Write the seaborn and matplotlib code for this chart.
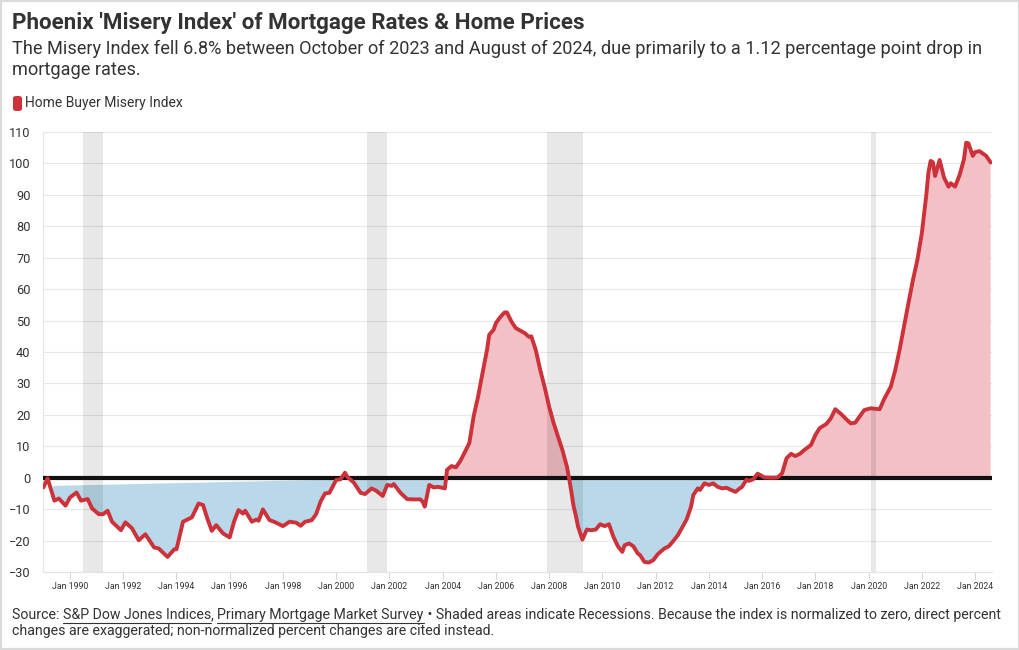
import numpy as np
import pandas as pd
import matplotlib
matplotlib.use("Agg")
import matplotlib.pyplot as plt
import matplotlib.dates as mdates
from matplotlib.patches import FancyBboxPatch, Rectangle
from matplotlib.lines import Line2D
import seaborn as sns

# ---------------- data ----------------
dates = [
    "1989-01", "1989-03", "1989-06", "1989-08", "1989-11", "1990-01", "1990-04", "1990-06",
    "1990-09", "1990-11", "1991-02", "1991-04", "1991-06", "1991-08", "1991-12", "1992-02",
    "1992-05", "1992-08", "1992-11", "1993-03", "1993-05", "1993-09", "1993-12", "1994-01",
    "1994-04", "1994-06", "1994-08", "1994-11", "1995-01", "1995-03", "1995-05", "1995-07",
    "1995-10", "1996-01", "1996-03", "1996-05", "1996-07", "1996-08", "1996-11", "1997-01",
    "1997-02", "1997-04", "1997-07", "1997-09", "1998-01", "1998-04", "1998-07", "1998-09",
    "1998-11", "1999-02", "1999-04", "1999-06", "1999-08", "1999-10", "2000-01", "2000-03",
    "2000-05", "2000-06", "2000-09", "2000-12", "2001-02", "2001-05", "2001-07", "2001-10",
    "2001-12", "2002-02", "2002-03", "2002-06", "2002-09", "2002-12", "2003-03", "2003-04",
    "2003-05", "2003-07", "2003-09", "2003-11", "2004-02", "2004-03", "2004-05", "2004-07",
    "2004-09", "2005-01", "2005-03", "2005-05", "2005-07", "2005-09", "2005-10", "2005-12",
    "2006-01", "2006-03", "2006-05", "2006-06", "2006-08", "2006-10", "2006-12", "2007-02",
    "2007-04", "2007-05", "2007-07", "2007-09", "2007-11", "2008-01", "2008-03", "2008-05",
    "2008-07", "2008-09", "2008-10", "2008-11", "2008-12", "2009-01", "2009-02", "2009-04",
    "2009-06", "2009-08", "2009-10", "2009-12", "2010-02", "2010-04", "2010-06", "2010-08",
    "2010-10", "2010-11", "2011-01", "2011-03", "2011-05", "2011-06", "2011-08", "2011-10",
    "2011-12", "2012-02", "2012-05", "2012-07", "2012-09", "2012-11", "2013-02", "2013-03",
    "2013-05", "2013-06", "2013-08", "2013-09", "2013-11", "2014-01", "2014-03", "2014-05",
    "2014-07", "2014-09", "2014-11", "2015-01", "2015-03", "2015-04", "2015-06", "2015-07",
    "2015-09", "2015-11", "2016-02", "2016-06", "2016-08", "2016-10", "2016-12", "2017-02",
    "2017-04", "2017-06", "2017-08", "2017-11", "2018-01", "2018-03", "2018-06", "2018-08",
    "2018-10", "2019-01", "2019-03", "2019-05", "2019-07", "2019-09", "2019-11", "2020-02",
    "2020-04", "2020-06", "2020-08", "2020-11", "2021-01", "2021-03", "2021-05", "2021-07",
    "2021-09", "2021-11", "2022-01", "2022-03", "2022-04", "2022-05", "2022-06", "2022-07",
    "2022-09", "2022-11", "2023-01", "2023-02", "2023-04", "2023-06", "2023-08", "2023-09",
    "2023-10", "2023-12", "2024-01", "2024-03", "2024-05", "2024-06", "2024-08",
]
values = [
    -3.1, -0.2, -7.3, -6.6, -8.9, -6.3, -4.7, -7.3,
    -6.8, -9.8, -11.6, -11.6, -10.5, -14.0, -16.7, -14.2,
    -16.1, -19.9, -18.0, -22.2, -22.5, -25.2, -22.8, -22.8,
    -14.0, -13.3, -12.6, -8.2, -8.7, -13.0, -16.9, -15.1,
    -17.7, -19.0, -14.0, -10.3, -11.4, -10.5, -14.0, -13.3,
    -13.7, -10.1, -13.5, -14.0, -15.4, -14.0, -14.3, -15.3,
    -14.0, -13.5, -11.6, -7.6, -5.0, -4.8, -0.7, -0.5,
    1.6, 0.3, -1.6, -4.8, -5.2, -3.4, -4.1, -5.8,
    -2.3, -2.6, -2.0, -4.8, -6.8, -6.9, -6.9, -7.6,
    -9.2, -2.3, -3.1, -2.9, -3.4, 2.5, 3.7, 3.3,
    5.4, 11.0, 19.5, 25.8, 33.3, 40.7, 45.5, 47.1,
    49.2, 51.1, 52.6, 52.6, 49.7, 47.6, 46.8, 46.0,
    44.8, 45.0, 40.7, 34.3, 28.8, 22.6, 17.5, 13.1,
    8.8, 3.5, -0.2, -4.5, -9.0, -12.0, -15.6, -19.7,
    -16.5, -16.7, -16.5, -14.8, -15.4, -14.8, -18.8, -21.8,
    -23.6, -21.5, -20.9, -21.8, -24.1, -24.6, -26.8, -27.0,
    -26.2, -24.3, -22.5, -21.8, -20.1, -18.3, -14.5, -13.3,
    -9.2, -5.5, -3.4, -3.9, -1.8, -2.3, -1.8, -2.9,
    -3.4, -3.2, -3.9, -4.5, -3.4, -2.9, -0.6, -1.0,
    -0.5, 1.3, 0.1, 0.0, 0.1, 1.4, 6.2, 7.6,
    6.9, 7.6, 8.8, 10.4, 13.6, 15.8, 17.1, 18.9,
    21.8, 20.0, 18.6, 17.3, 17.5, 19.5, 21.5, 22.1,
    21.9, 21.8, 25.0, 29.0, 34.3, 40.7, 48.2, 55.6,
    63.0, 69.4, 77.9, 89.6, 97.1, 100.8, 100.4, 96.0,
    101.1, 95.5, 92.6, 93.7, 92.6, 96.2, 101.3, 106.6,
    106.4, 102.4, 103.6, 103.9, 102.9, 102.4, 100.3,
]

recession_starts = ["1990-07-01", "2001-03-01", "2007-12-01", "2020-02-01"]
recession_ends = ["1991-04-01", "2001-12-01", "2009-04-10", "2020-04-10"]

# the first negative area in the source closes along a chord, not along zero
chord_dates = ["1989-05-15", "2000-01-01"]
chord_values = [-2.6, -0.6]

y_ticks = list(range(-30, 111, 10))

title = "Phoenix 'Misery Index' of Mortgage Rates & Home Prices"
subtitle = ("The Misery Index fell 6.8% between October of 2023 and August of 2024, due primarily to a 1.12 percentage point drop in\n"
            "mortgage rates.")
legend_label = "Home Buyer Misery Index"
source_parts = ["Source: ", "S&P Dow Jones Indices", ", ", "Primary Mortgage Market Survey",
                " \u2022 Shaded areas indicate Recessions. Because the index is normalized to zero, direct percent"]
source_line2 = "changes are exaggerated; non-normalized percent changes are cited instead."

# ---------------- style ----------------
sns.set_theme(style="white")
plt.rcParams['font.family'] = ['Roboto', 'DejaVu Sans']

RED = "#cd3139"
PINK = "#f2c0c5"
BLUE = "#b9d9ea"
TXT = "#333333"

W, H = 1020, 650
fig = plt.figure(figsize=(W / 100, H / 100), dpi=100)
fig.patch.set_facecolor("white")
ax = fig.add_axes([43 / W, (H - 572) / H, (992 - 43) / W, (572 - 132) / H])

df = pd.DataFrame({"date": pd.to_datetime(dates), "value": values})
xn = mdates.date2num(df["date"])
yv = df["value"].to_numpy()

# fills (dense sampling of the polyline itself)
xd = np.linspace(xn[0], xn[-1], 6000)
yd = np.interp(xd, xn, yv)
ax.fill_between(xd, yd, 0, where=yd >= 0, interpolate=True, color=PINK, lw=0, zorder=1)

cx = mdates.date2num(pd.to_datetime(chord_dates))
base = np.zeros_like(xd)
in_chord = (xd >= cx[0]) & (xd <= cx[1])
base[in_chord] = np.interp(xd[in_chord], cx, chord_values)
valid = (xd >= cx[0])
ax.fill_between(xd, yd, base, where=(yd < base) & valid, interpolate=True,
                color=BLUE, lw=0, zorder=1)

# recessions (translucent, over the fills)
for s, e in zip(recession_starts, recession_ends):
    ax.axvspan(pd.Timestamp(s), pd.Timestamp(e), color="black", alpha=0.09, lw=0, zorder=2)

ax.axhline(0, color="#111111", lw=3, zorder=3)

sns.lineplot(data=df, x="date", y="value", color=RED, lw=2.8, ax=ax, zorder=4)
for ln in ax.lines:
    ln.set_solid_joinstyle("round")
    ln.set_solid_capstyle("round")

ax.set_xlim(pd.Timestamp("1988-12-27"), pd.Timestamp("2024-08-20"))
ax.set_ylim(-30, 110)
ax.set_yticks(y_ticks)
ax.xaxis.set_major_locator(mdates.YearLocator(2, month=1))
ax.xaxis.set_major_formatter(mdates.DateFormatter("%b %Y"))
ax.set_xlabel("")
ax.set_ylabel("")

ax.yaxis.grid(True, color="#e8e8e8", lw=0.8)
ax.xaxis.grid(False)
ax.set_axisbelow(True)
for side in ["top", "right"]:
    ax.spines[side].set_visible(False)
ax.spines["left"].set_color("#e4e4e4")
ax.spines["left"].set_linewidth(0.8)
ax.spines["bottom"].set_color("#e4e4e4")
ax.spines["bottom"].set_linewidth(0.8)

ax.tick_params(axis="y", length=0, labelsize=9.2, labelcolor=TXT, pad=9)
ax.tick_params(axis="x", length=5, width=0.8, color="#d6d6d6", labelsize=6.3, labelcolor=TXT, pad=2.5)
ax.tick_params(axis="x", bottom=True)

# ---------------- texts ----------------
fig.text(12 / W, 1 - 23 / H, title, fontsize=16.1, fontweight="bold", color=TXT, va="center", ha="left")
fig.text(12 / W, 1 - 40 / H, subtitle, fontsize=13.1, color=TXT, va="top", ha="left", linespacing=1.22)

fig.patches.append(FancyBboxPatch((13 / W, 1 - 111 / H), 9 / W, 15 / H,
                                  boxstyle="round,pad=0,rounding_size=0.0035",
                                  transform=fig.transFigure, facecolor=RED, edgecolor="none"))
fig.text(25 / W, 1 - 103.5 / H, legend_label, fontsize=10.0, color=TXT, va="center", ha="left")

# source line with underlined links
fig.canvas.draw()
renderer = fig.canvas.get_renderer()
FS = 10.2
xpos = 12
ysrc = 615
for i, part in enumerate(source_parts):
    t = fig.text(xpos / W, 1 - ysrc / H, part, fontsize=FS, color=TXT, va="center", ha="left")
    probe = fig.text(0, 0, part + "|", fontsize=FS)
    bar = fig.text(0, 0, "|", fontsize=FS)
    wpx = probe.get_window_extent(renderer).width - bar.get_window_extent(renderer).width
    probe.remove()
    bar.remove()
    if i in (1, 3):
        tw = t.get_window_extent(renderer).width
        fig.add_artist(Line2D([xpos / W, (xpos + tw) / W], [1 - (ysrc + 7.5) / H] * 2,
                              transform=fig.transFigure, color=TXT, lw=0.8))
    xpos += wpx
fig.text(12 / W, 1 - 631 / H, source_line2, fontsize=FS, color=TXT, va="center", ha="left")

fig.patches.append(Rectangle((0, 0), 1, 1, transform=fig.transFigure, fill=False,
                             edgecolor="#dadada", lw=3))

fig.savefig("out.png", dpi=100, facecolor="white")
